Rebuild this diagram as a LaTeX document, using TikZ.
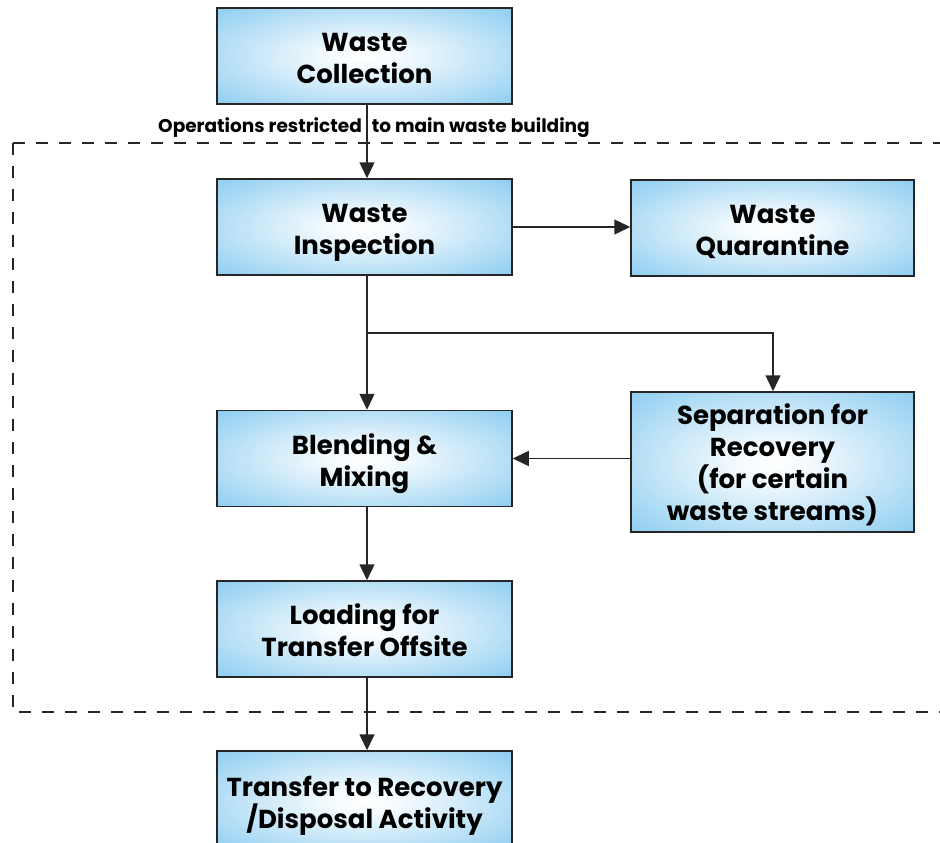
\documentclass[tikz,border=0pt]{standalone}
\usepackage{fontspec}
\setmainfont{Poppins}
\usetikzlibrary{arrows.meta}
\definecolor{boxblue}{HTML}{62BAEB}
\definecolor{boxline}{HTML}{262626}
\pgfdeclareradialshading{boxshade}{\pgfpoint{0bp}{0bp}}{color(0bp)=(white); color(6bp)=(white!94!boxblue); color(48bp)=(boxblue); color(75bp)=(boxblue)}
\tikzset{
  procbox/.style={draw=boxline, line width=1.5pt, shading=boxshade, minimum width=295pt, minimum height=96pt, align=center, font=\bfseries\fontsize{26}{32}\selectfont, inner sep=0pt,
    text height=55pt, text depth=0pt},
  conn/.style={draw=boxline, line width=1.5pt, -{Triangle[length=16pt,width=15pt]}},
  plainline/.style={draw=boxline, line width=1.5pt},
  zone/.style={draw=black!85, line width=2pt, dash pattern=on 12pt off 11pt}
}
\begin{document}
\begin{tikzpicture}[x=1pt,y=-1pt]
\useasboundingbox (0,0) rectangle (940,843);
\clip (0,0) rectangle (940,843);
\draw[zone] (13,143) -- (960,143) (13,143) -- (13,712) -- (960,712);
\node[procbox] (coll) at (364.5,56) {Waste\\Collection};
\node[procbox] (insp) at (364.5,227) {Waste\\Inspection};
\node[procbox, minimum width=283pt] (quar) at (772.5,228) {Waste\\Quarantine};
\node[procbox] (blend) at (364.5,458.5) {Blending \&\\Mixing};
\node[procbox, minimum width=283pt, minimum height=140pt, text height=116pt] (sep) at (772.5,462) {Separation for\\Recovery\\(for certain\\waste streams)};
\node[procbox] (load) at (364.5,629) {Loading for\\Transfer Offsite};
\node[procbox, minimum height=100pt] (trans) at (364.5,801) {Transfer to Recovery\\/Disposal Activity};
\node[font=\bfseries\fontsize{18.5}{20}\selectfont, inner sep=1pt] (lbl) at (374,128) {Operations restricted\hspace{10pt}to main waste building};
\coordinate (split) at (367,333);
\coordinate (turn) at (773,333);
\draw[conn] (coll.south -| split) -- (insp.north -| split);
\draw[conn] (insp.east) -- (quar.west |- insp.east);
\draw[plainline] (insp.south -| split) -- (split);
\draw[conn] (split) -- (blend.north -| split);
\draw[conn] (split) -- (turn) -- (sep.north -| turn);
\draw[conn] (sep.west |- blend.east) -- (blend.east);
\draw[conn] (blend.south -| split) -- (load.north -| split);
\draw[conn] (load.south -| split) -- (trans.north -| split);
\end{tikzpicture}
\end{document}
